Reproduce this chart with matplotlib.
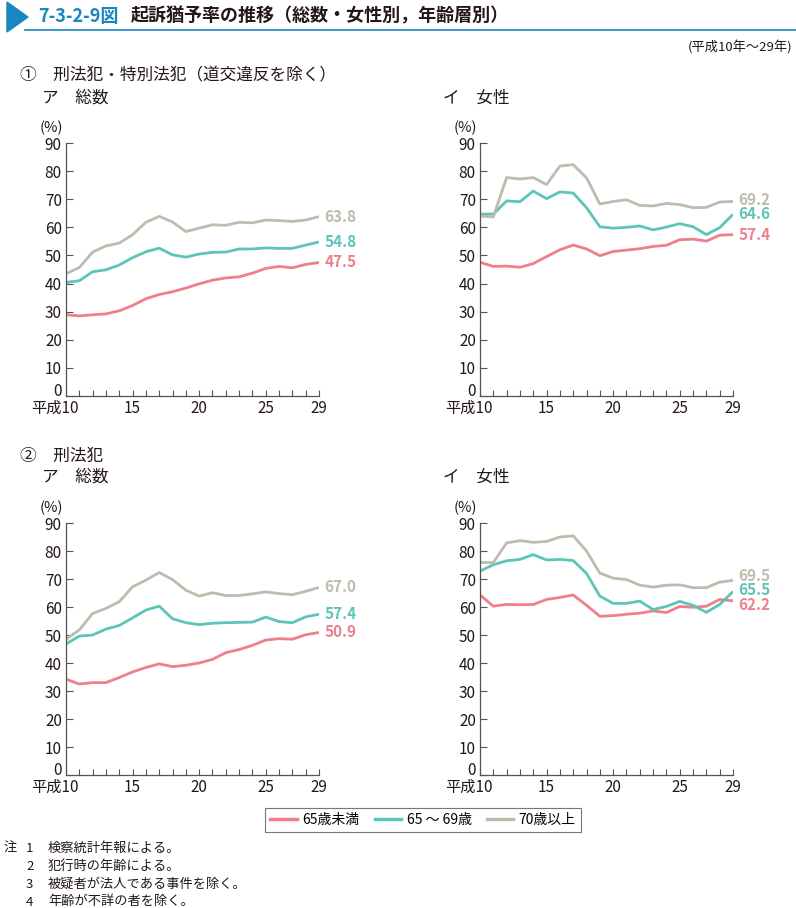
import matplotlib.pyplot as plt
from matplotlib.patches import Polygon
from matplotlib.lines import Line2D
import matplotlib.transforms as mtransforms

plt.rcParams['font.family'] = ['Noto Sans CJK JP', 'DejaVu Sans']

years = list(range(10, 30))

# ① 刑法犯・特別法犯（道交違反を除く） ア 総数
p1_under65 = [28.9, 28.5, 28.9, 29.2, 30.3, 32.2, 34.6, 36.1, 37.1, 38.4,
              39.9, 41.2, 42.0, 42.4, 43.7, 45.4, 46.1, 45.6, 46.8, 47.5]
p1_65_69 = [40.4, 41.0, 44.2, 44.9, 46.6, 49.2, 51.3, 52.6, 50.2, 49.4,
            50.5, 51.1, 51.2, 52.3, 52.3, 52.7, 52.5, 52.5, 53.7, 54.8]
p1_70 = [43.5, 45.7, 51.2, 53.4, 54.4, 57.4, 61.8, 63.9, 61.9, 58.5,
         59.7, 60.9, 60.7, 61.8, 61.6, 62.6, 62.4, 62.1, 62.6, 63.8]

# ① イ 女性
p2_under65 = [47.6, 46.1, 46.2, 45.8, 47.1, 49.6, 52.0, 53.7, 52.3, 49.9,
              51.4, 51.9, 52.4, 53.2, 53.6, 55.6, 55.8, 55.1, 57.2, 57.4]
p2_65_69 = [64.7, 64.7, 69.4, 69.1, 72.9, 70.2, 72.6, 72.2, 67.0, 60.2,
            59.7, 60.0, 60.5, 59.1, 60.1, 61.3, 60.2, 57.4, 59.9, 64.6]
p2_70 = [64.0, 63.7, 77.7, 77.2, 77.7, 75.2, 81.8, 82.3, 77.6, 68.3,
         69.2, 69.8, 67.8, 67.6, 68.5, 68.1, 67.0, 67.1, 69.0, 69.2]

# ② 刑法犯 ア 総数
p3_under65 = [34.2, 32.5, 33.0, 33.0, 34.8, 36.8, 38.4, 39.7, 38.7, 39.2,
              40.0, 41.3, 43.7, 44.8, 46.3, 48.2, 48.7, 48.5, 50.1, 50.9]
p3_65_69 = [46.8, 49.6, 50.0, 52.1, 53.4, 56.1, 58.9, 60.3, 55.8, 54.4,
            53.7, 54.2, 54.4, 54.5, 54.6, 56.4, 54.8, 54.4, 56.5, 57.4]
p3_70 = [48.5, 51.8, 57.7, 59.5, 61.9, 67.2, 69.6, 72.3, 69.8, 66.0,
         63.9, 65.1, 64.1, 64.1, 64.7, 65.4, 64.8, 64.4, 65.6, 67.0]

# ② イ 女性
p4_under65 = [64.3, 60.3, 60.9, 60.8, 60.9, 62.7, 63.4, 64.3, 60.6, 56.7,
              56.9, 57.4, 57.8, 58.6, 58.0, 60.2, 59.9, 60.3, 62.7, 62.2]
p4_65_69 = [72.8, 75.1, 76.5, 77.0, 78.7, 76.8, 77.0, 76.6, 72.0, 63.9,
            61.3, 61.3, 62.1, 59.1, 60.2, 62.0, 60.6, 58.1, 60.9, 65.5]
p4_70 = [75.9, 75.9, 82.9, 83.7, 83.1, 83.4, 85.0, 85.4, 80.0, 72.1,
         70.3, 69.8, 67.8, 67.1, 67.8, 67.9, 66.9, 66.9, 68.9, 69.5]

series_names = ['65歳未満', '65 ～ 69歳', '70歳以上']
colors = ['#ef7f88', '#5cc4b8', '#bdbcae']
end_labels = [['47.5', '54.8', '63.8'], ['57.4', '64.6', '69.2'],
              ['50.9', '57.4', '67.0'], ['62.2', '65.5', '69.5']]

W, H = 796, 908
fig = plt.figure(figsize=(W / 100, H / 100), dpi=100)


def fx(px):
    return px / W


def fy(py):
    return 1 - py / H


axis_col = '#5a5252'
text_col = '#231815'


def draw_panel(left, top, bottom, data, labels, label_shift):
    ax = fig.add_axes([fx(left), fy(bottom), fx(253), fy(top) - fy(bottom)])
    for vals, c in zip(data, colors):
        ax.plot(years, vals, color=c, lw=2.0, solid_capstyle='butt')
    for vals, c, lab, sh in zip(data, colors, labels, label_shift):
        ax.annotate(lab, (29, vals[-1] + sh), xytext=(4, 0), textcoords='offset points',
                    color=c, fontsize=11, fontweight='semibold', va='center', ha='left',
                    annotation_clip=False)
    ax.set_xlim(10, 29)
    ax.set_ylim(0, 90)
    ax.set_yticks(range(0, 91, 10))
    ax.set_xticks([10, 15, 20, 25, 29])
    ax.set_xticks(years, minor=True)
    ax.set_xticklabels(['平成10', '15', '20', '25', '29'])
    ax.tick_params(axis='both', which='both', direction='in', color=axis_col,
                   labelsize=11, labelcolor=text_col, width=0.8)
    ax.tick_params(axis='y', length=5, pad=3)
    ax.tick_params(axis='x', which='both', length=4, pad=3)
    lab0 = ax.get_xticklabels()[0]
    lab0.set_horizontalalignment('right')
    lab0.set_transform(lab0.get_transform() +
                       mtransforms.ScaledTranslation(9 / 72, 0, fig.dpi_scale_trans))
    # lift the "0" so it clears the 平成10 label
    ylab0 = ax.get_yticklabels()[0]
    ylab0.set_transform(ylab0.get_transform() +
                        mtransforms.ScaledTranslation(0, 5 / 72, fig.dpi_scale_trans))
    for s in ['top', 'right']:
        ax.spines[s].set_visible(False)
    for s in ['left', 'bottom']:
        ax.spines[s].set_color(axis_col)
        ax.spines[s].set_linewidth(0.9)
    ax.text(-0.01, 1.06, '(%)', transform=ax.transAxes, ha='right', va='center',
            fontsize=10.5, color=text_col)
    ax.patch.set_alpha(0)
    return ax


draw_panel(66, 143, 396, [p1_under65, p1_65_69, p1_70], end_labels[0], [0, 0, 0])
draw_panel(480, 143, 396, [p2_under65, p2_65_69, p2_70], end_labels[1], [-0.2, 0, 0.5])
draw_panel(66, 523, 775, [p3_under65, p3_65_69, p3_70], end_labels[2], [0, 0, 0])
draw_panel(480, 523, 775, [p4_under65, p4_65_69, p4_70], end_labels[3], [-1.6, 0.5, 1.7])

# header
blue = '#1a86c0'
fig.patches.append(Polygon([[fx(7), fy(2)], [fx(7), fy(32)], [fx(28), fy(17)]],
                           closed=True, transform=fig.transFigure, color=blue))
fig.add_artist(Line2D([fx(25), fx(796)], [fy(30), fy(30)], color=blue, lw=1.2,
                      transform=fig.transFigure))
fig.text(fx(38), fy(16), '7-3-2-9図', color=blue, fontsize=13, fontweight='bold',
         va='center', ha='left')
fig.text(fx(131), fy(16), '起訴猶予率の推移（総数・女性別，年齢層別）', color=text_col,
         fontsize=13, fontweight='bold', va='center', ha='left')
fig.text(fx(792), fy(48), '(平成10年～29年)', fontsize=9.5, color=text_col,
         ha='right', va='center')

fig.text(fx(20), fy(76), '①　刑法犯・特別法犯（道交違反を除く）', fontsize=12,
         color=text_col, va='center')
fig.text(fx(42), fy(98), 'ア　総数', fontsize=12, color=text_col, va='center')
fig.text(fx(443), fy(98), 'イ　女性', fontsize=12, color=text_col, va='center')
fig.text(fx(20), fy(456), '②　刑法犯', fontsize=12, color=text_col, va='center')
fig.text(fx(42), fy(477), 'ア　総数', fontsize=12, color=text_col, va='center')
fig.text(fx(443), fy(477), 'イ　女性', fontsize=12, color=text_col, va='center')

# legend
handles = [Line2D([], [], color=c, lw=2.5) for c in colors]
leg = fig.legend(handles, series_names, loc='center', bbox_to_anchor=(fx(423), fy(820)),
                 ncol=3, frameon=True, fancybox=False, fontsize=10, handlelength=1.9,
                 columnspacing=1.1, handletextpad=0.4, borderpad=0.35, borderaxespad=0)
leg.get_frame().set_edgecolor('#555555')
leg.get_frame().set_linewidth(0.8)

notes = ['検察統計年報による。', '犯行時の年齢による。',
         '被疑者が法人である事件を除く。', '年齢が不詳の者を除く。']
fig.text(fx(4), fy(848), '注', fontsize=9.5, color=text_col, va='center')
for i, n in enumerate(notes):
    y = 848 + i * 18
    fig.text(fx(26), fy(y), str(i + 1), fontsize=9.5, color=text_col, va='center')
    fig.text(fx(48), fy(y), n, fontsize=9.5, color=text_col, va='center')

fig.savefig('out.png', dpi=100)
